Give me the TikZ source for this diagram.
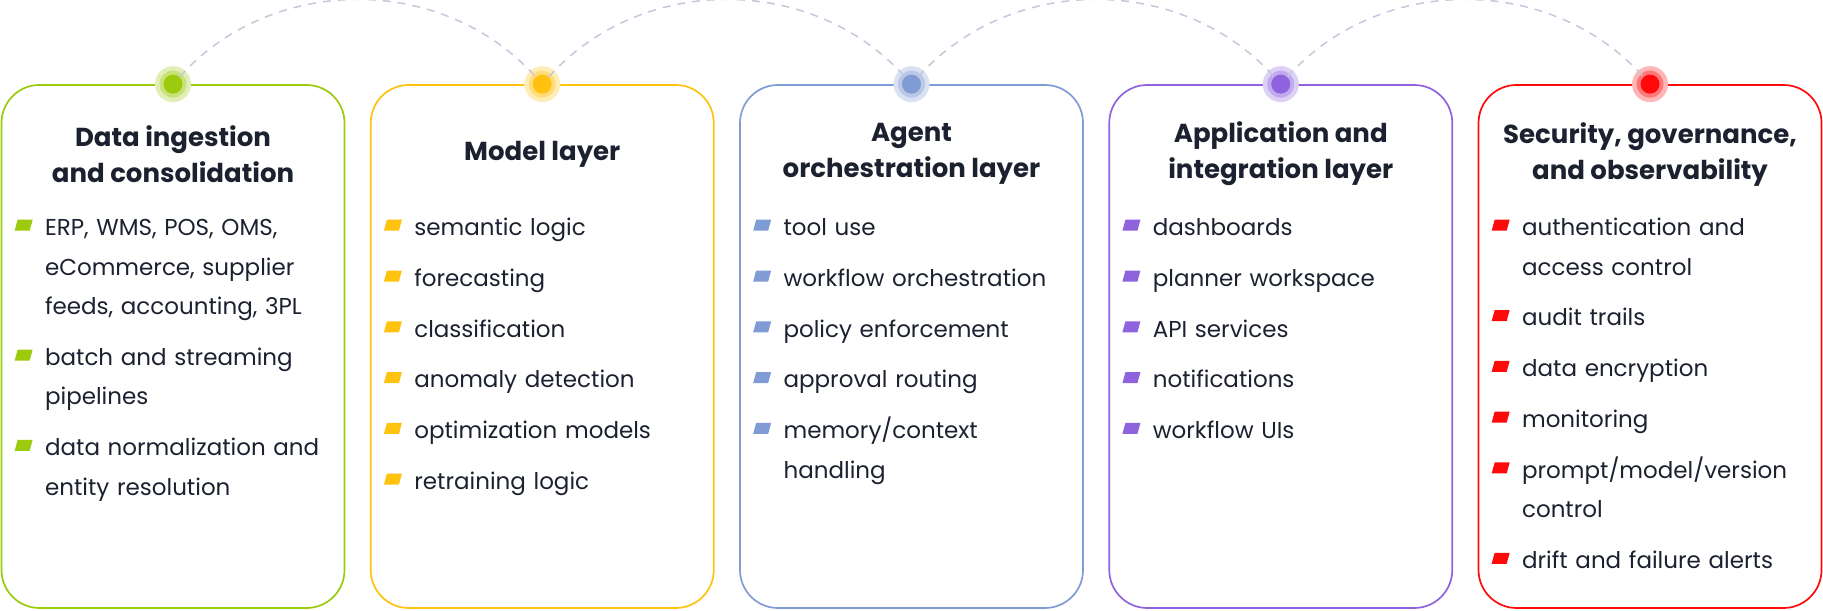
\documentclass[tikz,border=0pt]{standalone}
\usepackage{fontspec}
\setmainfont{Poppins}
\usepackage{tikz}
\usetikzlibrary{positioning}

\definecolor{cgreen}{HTML}{9BCB0C}
\definecolor{cyellow}{HTML}{FFC20E}
\definecolor{cblue}{HTML}{809CD4}
\definecolor{cpurple}{HTML}{8F62DE}
\definecolor{cred}{HTML}{FF0A0A}
\definecolor{ink}{HTML}{1C2130}
\definecolor{arcgray}{HTML}{C3C8DA}

\begin{document}
\begin{tikzpicture}[
  x=0.5pt, y=0.5pt,
  layer/.style={draw, line width=0.85pt, rounded corners=19pt,
    minimum width=171.5pt, minimum height=261.5pt, inner sep=0pt},
  head/.style={align=center, text=ink, inner sep=0pt,
    font=\bfseries\fontsize{13}{18}\selectfont},
  item/.style={text width=152pt, align=left, text=ink, inner sep=0pt,
    font=\fontsize{11.5}{19.75}\selectfont},
  dot/.style={circle, minimum size=9.5pt, inner sep=0pt},
  link/.style={draw=arcgray, line width=0.75pt, dash pattern=on 4pt off 3.5pt}
]
  \useasboundingbox (0,0) rectangle (1823,610);

  \foreach \k/\col/\head/\items in {
    1/cgreen/{Data ingestion\\and consolidation}/{{ERP, WMS, POS, OMS,\\eCommerce, supplier\\feeds, accounting, 3PL},{batch and streaming\\pipelines},{data normalization and\\entity resolution}},
    2/cyellow/{Model layer}/{{semantic logic},{forecasting},{classification},{anomaly detection},{optimization models},{retraining logic}},
    3/cblue/{Agent\\orchestration layer}/{{tool use},{workflow orchestration},{policy enforcement},{approval routing},{memory/context\\handling}},
    4/cpurple/{Application and\\integration layer}/{{dashboards},{planner workspace},{API services},{notifications},{workflow UIs}},
    5/cred/{Security, governance,\\and observability}/{{authentication and\\access control},{audit trails},{data encryption},{monitoring},{prompt/model/version\\control},{drift and failure alerts}}%
  } {
    \node[layer, draw=\col] (b\k) at (173+369.25*\k-369.25, 263.5) {};
    \node[head] (h\k) at ([yshift=-35pt]b\k.north) {\head};
    \coordinate (c\k-0) at ([xshift=22pt, yshift=-56.45pt]b\k.north west);
    \foreach \t [count=\i, remember=\i as \j (initially 0)] in \items {
      \node[item, below=5.25pt of c\k-\j.south west, anchor=north west] (c\k-\i) {\strut\t\strut};
      \fill[\col] ([shift={(-30,-23.2)}]c\k-\i.north west) -- ++(15,0) -- ++(3,11) -- ++(-15,0) -- cycle;
    }
    % halo round the top dot
    \fill[\col!30] (b\k.north) circle (9pt);
    \fill[\col!55] (b\k.north) circle (6.75pt);
    \node[dot, fill=\col] (d\k) at (b\k.north) {};
  }

  % dashed arcs between the dots
  \foreach \k [count=\n from 2] in {1,...,4}
    \draw[link] (d\k) to[out=48, in=132] (d\n);
\end{tikzpicture}
\end{document}
